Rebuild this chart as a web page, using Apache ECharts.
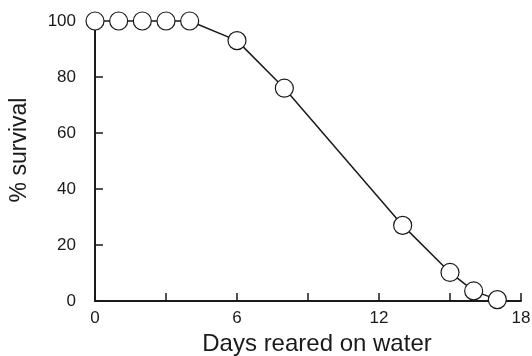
<!DOCTYPE html>
<html>
<head>
<meta charset="utf-8">
<script src="https://cdn.jsdelivr.net/npm/echarts@6/dist/echarts.min.js"></script>
<style>
html,body{margin:0;padding:0;background:#fff;}
#chart{width:532px;height:356px;}
</style>
</head>
<body>
<div id="chart"></div>
<script>
var days = [0, 1, 2, 3, 4, 6, 8, 13, 15, 16, 17];
var survival = [100, 100, 100, 100, 100, 93, 76, 27, 10.2, 3.6, 0.5];
var xTickLabels = [0, 6, 12, 18];
var yTickLabels = [0, 20, 40, 60, 80, 100];
var xTitle = 'Days reared on water';
var yTitle = '% survival';

var chart = echarts.init(document.getElementById('chart'), null, {renderer: 'canvas'});
var font = 'Liberation Sans, Arial, sans-serif';
chart.setOption({
  animation: false,
  backgroundColor: '#fff',
  grid: {left: 95, right: 11, top: 21, bottom: 55, containLabel: false, outerBoundsMode: 'none'},
  xAxis: {
    type: 'value', min: 0, max: 18, interval: 3,
    name: xTitle, nameLocation: 'middle', nameGap: 31,
    nameTextStyle: {fontFamily: font, fontSize: 24, color: '#1a1a1a', padding: [0, 0, 0, 18]},
    axisLine: {show: true, lineStyle: {color: '#1a1a1a', width: 2}},
    axisTick: {show: true, inside: true, length: 8, lineStyle: {color: '#1a1a1a', width: 1.5}},
    axisLabel: {
      fontFamily: font, fontSize: 17, color: '#1a1a1a', margin: 9,
      formatter: function (v) { return xTickLabels.indexOf(v) >= 0 ? String(v) : ''; }
    },
    splitLine: {show: false}
  },
  yAxis: {
    type: 'value', min: 0, max: 100, interval: 20,
    name: yTitle, nameLocation: 'middle', nameGap: 64,
    nameTextStyle: {fontFamily: font, fontSize: 23, color: '#1a1a1a', padding: [0, 0, 0, 22]},
    axisLine: {show: true, lineStyle: {color: '#1a1a1a', width: 2}},
    axisTick: {show: true, inside: true, length: 8, lineStyle: {color: '#1a1a1a', width: 1.5}},
    axisLabel: {
      fontFamily: font, fontSize: 17, color: '#1a1a1a', margin: 19,
      formatter: function (v) { return yTickLabels.indexOf(v) >= 0 ? String(v) : ''; }
    },
    splitLine: {show: false}
  },
  series: [{
    type: 'line',
    data: days.map(function (d, i) { return [d, survival[i]]; }),
    symbol: 'circle', symbolSize: 18,
    showAllSymbol: true,
    lineStyle: {color: '#1a1a1a', width: 1.5},
    itemStyle: {color: '#fff', borderColor: '#1a1a1a', borderWidth: 1.2},
    clip: false,
    z: 3
  }]
});
</script>
</body>
</html>
